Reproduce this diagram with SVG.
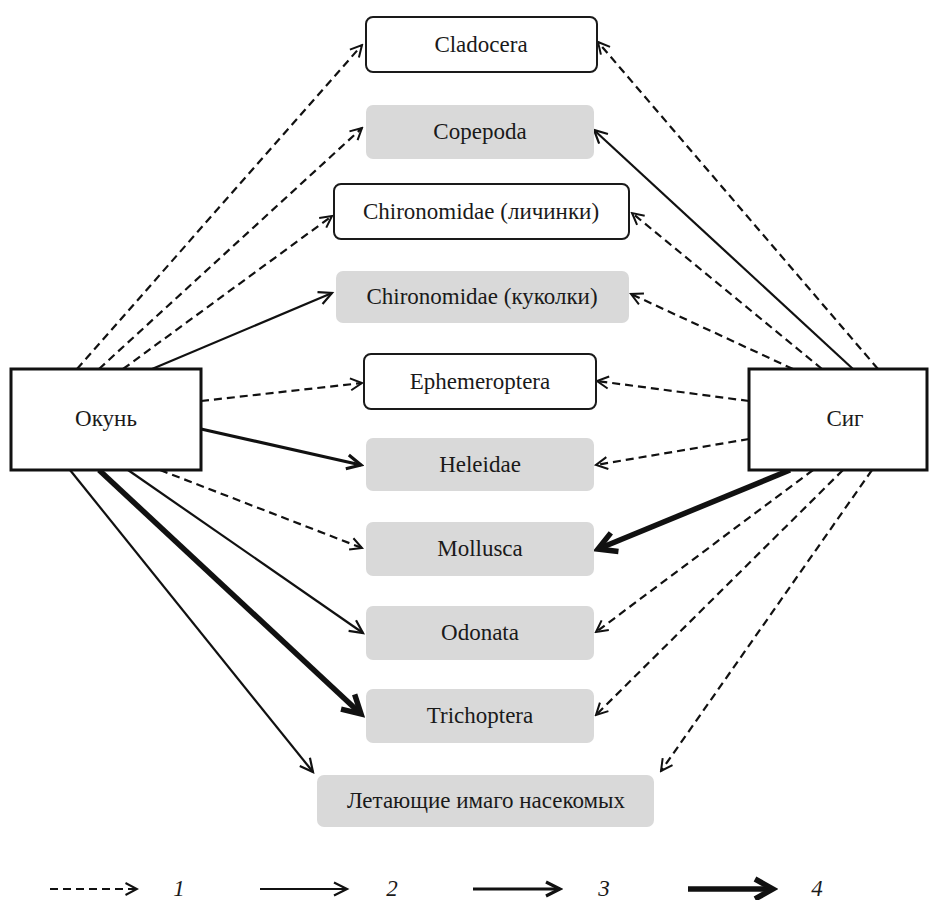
<svg xmlns="http://www.w3.org/2000/svg" width="929" height="900" viewBox="0 0 929 900">
<defs>
<marker id="ad" viewBox="0 0 16 16" markerWidth="16" markerHeight="16" refX="14" refY="8" orient="auto" markerUnits="userSpaceOnUse"><path d="M2.5,2 L14,8 L2.5,14" fill="none" stroke="#111" stroke-width="2"/></marker>
<marker id="as" viewBox="0 0 18 18" markerWidth="18" markerHeight="18" refX="15" refY="9" orient="auto" markerUnits="userSpaceOnUse"><path d="M2,2.5 L15,9 L2,15.5" fill="none" stroke="#111" stroke-width="2.2"/></marker>
<marker id="am" viewBox="0 0 20 20" markerWidth="20" markerHeight="20" refX="17" refY="10" orient="auto" markerUnits="userSpaceOnUse"><path d="M3,3 L17,10 L3,17" fill="none" stroke="#111" stroke-width="3.2"/></marker>
<marker id="at" viewBox="0 0 28 28" markerWidth="28" markerHeight="28" refX="23" refY="14" orient="auto" markerUnits="userSpaceOnUse"><path d="M5,4 L23,14 L5,24" fill="none" stroke="#111" stroke-width="5.5"/></marker>
</defs>
<rect width="929" height="900" fill="#fff"/>

<g id="connectors" fill="none" stroke="#111">
<g stroke-width="2.2" stroke-dasharray="8 5" marker-end="url(#ad)">
<path d="M77,369 L362,45"/>
<path d="M99,369 L362,128"/>
<path d="M123,369 L332,216"/>
<path d="M201,401 L362,383"/>
<path d="M160,470 L362,548"/>
<path d="M878,369 L598,42"/>
<path d="M822,369 L632,213"/>
<path d="M793,369 L631,294"/>
<path d="M749,401 L597,381"/>
<path d="M749,439 L596,465"/>
<path d="M813,470 L596,632"/>
<path d="M843,470 L596,715"/>
<path d="M872,470 L661,771"/>
</g>
<g stroke-width="2.2" marker-end="url(#as)">
<path d="M152,369 L332,293"/>
<path d="M128,470 L363,633"/>
<path d="M70,470 L313,772"/>
<path d="M853,369 L594,130"/>
</g>
<g stroke-width="3.2" marker-end="url(#am)">
<path d="M201,429 L361,465"/>
</g>
<g stroke-width="5.5" marker-end="url(#at)">
<path d="M99,470 L361,714"/>
<path d="M790,470 L598,549"/>
</g>
</g>

<g id="okun"><rect fill="#fff" stroke="#111" stroke-width="3" x="11" y="369" width="190" height="101"/><text font-family="Liberation Serif" font-size="23" text-anchor="middle" fill="#1a1a1a" x="106" y="426">Окунь</text></g>
<g id="sig"><rect fill="#fff" stroke="#111" stroke-width="3" x="749" y="369" width="178" height="101"/><text font-family="Liberation Serif" font-size="23" text-anchor="middle" fill="#1a1a1a" x="845" y="426">Сиг</text></g>

<g id="cladocera"><rect fill="#fff" stroke="#1a1a1a" stroke-width="2" x="366" y="17" width="231" height="55" rx="7"/><text font-family="Liberation Serif" font-size="23" text-anchor="middle" fill="#1a1a1a" x="481" y="52">Cladocera</text></g>
<g id="copepoda"><rect fill="#d9d9d9" x="366" y="105" width="228" height="54" rx="7"/><text font-family="Liberation Serif" font-size="23" text-anchor="middle" fill="#1a1a1a" x="480" y="139">Copepoda</text></g>
<g id="chir-larvae"><rect fill="#fff" stroke="#1a1a1a" stroke-width="2" x="334" y="184" width="295" height="55" rx="7"/><text font-family="Liberation Serif" font-size="23" text-anchor="middle" fill="#1a1a1a" x="481" y="219">Chironomidae (личинки)</text></g>
<g id="chir-pupae"><rect fill="#d9d9d9" x="336" y="271" width="293" height="52" rx="7"/><text font-family="Liberation Serif" font-size="23" text-anchor="middle" fill="#1a1a1a" x="482" y="304">Chironomidae (куколки)</text></g>
<g id="ephemeroptera"><rect fill="#fff" stroke="#1a1a1a" stroke-width="2" x="364" y="354" width="232" height="55" rx="7"/><text font-family="Liberation Serif" font-size="23" text-anchor="middle" fill="#1a1a1a" x="480" y="389">Ephemeroptera</text></g>
<g id="heleidae"><rect fill="#d9d9d9" x="366" y="438" width="228" height="53" rx="7"/><text font-family="Liberation Serif" font-size="23" text-anchor="middle" fill="#1a1a1a" x="480" y="472">Heleidae</text></g>
<g id="mollusca"><rect fill="#d9d9d9" x="366" y="522" width="228" height="54" rx="7"/><text font-family="Liberation Serif" font-size="23" text-anchor="middle" fill="#1a1a1a" x="480" y="556">Mollusca</text></g>
<g id="odonata"><rect fill="#d9d9d9" x="366" y="606" width="228" height="54" rx="7"/><text font-family="Liberation Serif" font-size="23" text-anchor="middle" fill="#1a1a1a" x="480" y="640">Odonata</text></g>
<g id="trichoptera"><rect fill="#d9d9d9" x="366" y="689" width="228" height="54" rx="7"/><text font-family="Liberation Serif" font-size="23" text-anchor="middle" fill="#1a1a1a" x="480" y="723">Trichoptera</text></g>
<g id="imago"><rect fill="#d9d9d9" x="317" y="775" width="337" height="52" rx="7"/><text font-family="Liberation Serif" font-size="23" text-anchor="middle" fill="#1a1a1a" x="486" y="808">Летающие имаго насекомых</text></g>

<g id="legend">
<path fill="none" stroke="#111" stroke-width="2.2" stroke-dasharray="8 5" marker-end="url(#ad)" d="M50,889 L137,889"/>
<text font-family="Liberation Serif" font-size="23" font-style="italic" text-anchor="middle" fill="#1a1a1a" x="179" y="896">1</text>
<path fill="none" stroke="#111" stroke-width="2.2" marker-end="url(#as)" d="M260,889 L347,889"/>
<text font-family="Liberation Serif" font-size="23" font-style="italic" text-anchor="middle" fill="#1a1a1a" x="392" y="896">2</text>
<path fill="none" stroke="#111" stroke-width="3.2" marker-end="url(#am)" d="M473,889 L560,889"/>
<text font-family="Liberation Serif" font-size="23" font-style="italic" text-anchor="middle" fill="#1a1a1a" x="604" y="896">3</text>
<path fill="none" stroke="#111" stroke-width="5.5" marker-end="url(#at)" d="M688,889 L773,889"/>
<text font-family="Liberation Serif" font-size="23" font-style="italic" text-anchor="middle" fill="#1a1a1a" x="817" y="896">4</text>
</g>
</svg>
